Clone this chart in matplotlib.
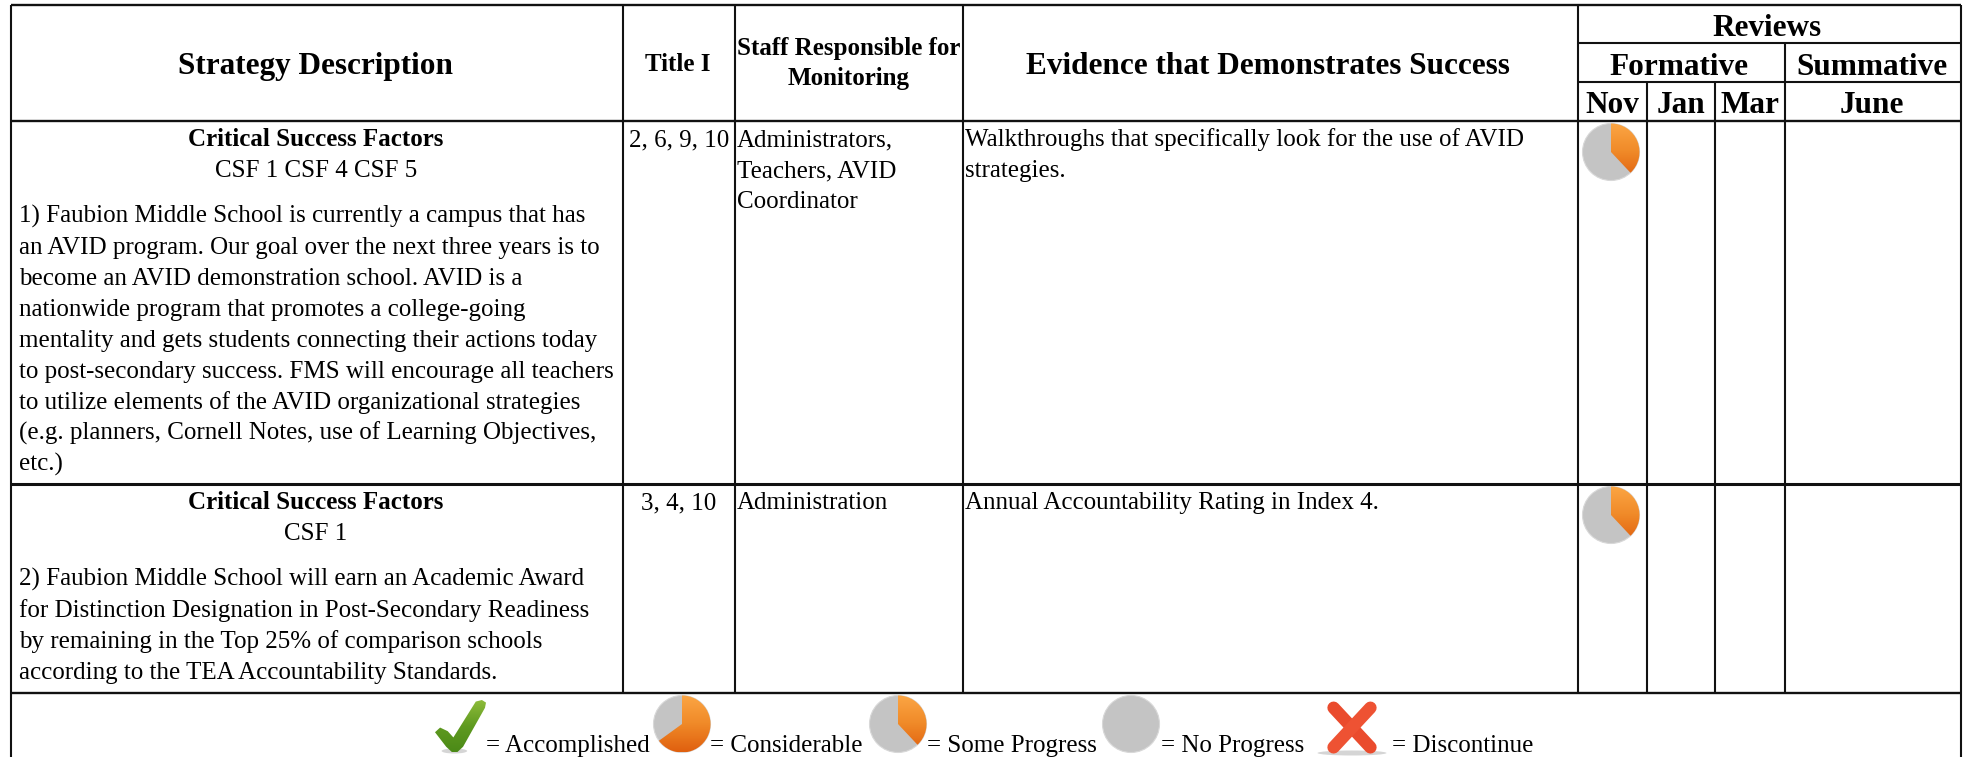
import numpy as np
import matplotlib
matplotlib.use('Agg')
from matplotlib import pyplot as plt
from matplotlib.patches import Wedge, Circle, Polygon, Ellipse
from matplotlib.colors import LinearSegmentedColormap

plt.rcParams['font.family'] = ['Liberation Serif', 'DejaVu Serif']

# table text
strategy_titles = ['Critical Success Factors', 'Critical Success Factors']
csf_lines = ['CSF 1 CSF 4 CSF 5', 'CSF 1']
strategy_1 = ['1) Faubion Middle School is currently a campus that has',
              'an AVID program. Our goal over the next three years is to',
              'become an AVID demonstration school. AVID is a',
              'nationwide program that promotes a college-going',
              'mentality and gets students connecting their actions today',
              'to post-secondary success. FMS will encourage all teachers',
              'to utilize elements of the AVID organizational strategies',
              '(e.g. planners, Cornell Notes, use of Learning Objectives,',
              'etc.)']
strategy_2 = ['2) Faubion Middle School will earn an Academic Award',
              'for Distinction Designation in Post-Secondary Readiness',
              'by remaining in the Top 25% of comparison schools',
              'according to the TEA Accountability Standards.']
title_1 = ['2, 6, 9, 10', '3, 4, 10']
staff = [['Administrators,', 'Teachers, AVID', 'Coordinator'], ['Administration']]
evidence = [['Walkthroughs that specifically look for the use of AVID', 'strategies.'],
            ['Annual Accountability Rating in Index 4.']]
# orange share of the Nov review pies
nov_progress = [0.38, 0.38]

legend_labels = ['= Accomplished', '= Considerable', '= Some Progress', '= No Progress', '= Discontinue']
legend_text_x = [486, 710, 927, 1161, 1392]
legend_pies = [0.65, 0.38, 0.0]
legend_pie_x = [682, 898, 1131]

# grid lines in image pixels
x_left, x_right = 11, 1961
col_x = [623, 735, 963, 1578]
review_x = [1647, 1715, 1785]
y_top, y_rev, y_form, y_head = 5, 43, 82, 121
row_y = [121, 484, 693]

BODY = 18.0
HEAD = 22.5
SMALLHEAD = 18.0

orange_map = LinearSegmentedColormap.from_list('o', ['#fba544', '#f08a28', '#e0600f'])
green_map = LinearSegmentedColormap.from_list('g', ['#8dbb3a', '#5f9a20', '#4b8a17'])


def gradient_fill(ax, patch, x0, x1, y0, y1, cmap):
    # vertical gradient clipped to the patch
    ax.add_patch(patch)
    patch.set_facecolor('none')
    patch.set_edgecolor('none')
    grad = np.linspace(0, 1, 64).reshape(-1, 1)
    im = ax.imshow(grad, extent=(x0, x1, y1, y0), cmap=cmap, aspect='auto', zorder=3, origin='upper')
    im.set_clip_path(patch)


def draw_pie(ax, cx, cy, share, r=28.5):
    ax.add_patch(Circle((cx, cy), r, fc='#c4c4c4', ec='#d8d8d8', lw=0.8, zorder=2))
    if share > 0:
        # y axis points down, so growing angles go clockwise on screen
        w = Wedge((cx, cy), r, -90, -90 + 360 * share)
        gradient_fill(ax, w, cx - r, cx + r, cy - r, cy + r, orange_map)


def draw_check(ax, x0, y0, w, h):
    ax.add_patch(Ellipse((x0 + 0.38 * w, y0 + h - 1), 0.5 * w, 5, fc='#d5d5d5', ec='none', zorder=2))
    shape = np.array([[0.0, 0.62], [0.10, 0.53], [0.25, 0.60], [0.36, 0.72], [0.80, 0.03], [0.92, 0.0],
                      [1.0, 0.05], [0.98, 0.15], [0.55, 0.90], [0.44, 1.0], [0.33, 1.0], [0.22, 0.90]])
    pts = shape * [w, h] + [x0, y0]
    gradient_fill(ax, Polygon(pts), x0, x0 + w, y0, y0 + h, green_map)


def draw_cross(ax, x0, y0, w, h):
    ax.add_patch(Ellipse((x0 + 0.5 * w, y0 + h + 2), 1.5 * w, 5, fc='#d5d5d5', ec='none', zorder=2))
    ax.plot([x0 + 0.1 * w, x0 + 0.9 * w], [y0 + 0.06 * h, y0 + 0.92 * h], color='#ea4b2d', lw=9,
            solid_capstyle='round', zorder=3)
    ax.plot([x0 + 0.9 * w, x0 + 0.1 * w], [y0 + 0.06 * h, y0 + 0.92 * h], color='#ee5233', lw=9,
            solid_capstyle='round', zorder=3)


fig = plt.figure(figsize=(19.63, 7.57), dpi=100)
ax = fig.add_axes([0, 0, 1, 1])
ax.axis('off')


def hline(y, x0=x_left, x1=x_right, lw=1.5):
    ax.plot([x0, x1], [y, y], color='#111111', lw=lw, solid_capstyle='butt', zorder=4)


def vline(x, y0, y1, lw=1.5):
    ax.plot([x, x], [y0, y1], color='#111111', lw=lw, solid_capstyle='butt', zorder=4)


# grid
hline(y_top, lw=1.7)
hline(y_rev, col_x[3])
hline(y_form, col_x[3])
hline(y_head, lw=1.7)
hline(row_y[1], lw=2.2)
hline(row_y[2], lw=1.7)
vline(x_left, y_top, 757)
vline(x_right, y_top, 757)
for x in col_x:
    vline(x, y_top, row_y[2])
vline(review_x[0], y_form, row_y[2])
vline(review_x[1], y_form, row_y[2])
vline(review_x[2], y_rev, row_y[2])


def put(x, y, s, size=BODY, weight='normal', ha='left'):
    ax.text(x, y, s, fontsize=size, fontweight=weight, ha=ha, va='baseline', color='black', zorder=5)


# headers
put(316, 74, 'Strategy Description', HEAD, 'bold', 'center')
put(678, 71, 'Title I', SMALLHEAD, 'bold', 'center')
put(849, 55, 'Staff Responsible for', SMALLHEAD, 'bold', 'center')
put(849, 85, 'Monitoring', SMALLHEAD, 'bold', 'center')
put(1268, 74, 'Evidence that Demonstrates Success', HEAD, 'bold', 'center')
put(1767, 36, 'Reviews', HEAD, 'bold', 'center')
put(1679, 75, 'Formative', HEAD, 'bold', 'center')
put(1872, 75, 'Summative', HEAD, 'bold', 'center')
put(1612, 113, 'Nov', HEAD, 'bold', 'center')
put(1681, 113, 'Jan', HEAD, 'bold', 'center')
put(1750, 113, 'Mar', HEAD, 'bold', 'center')
put(1872, 113, 'June', HEAD, 'bold', 'center')

# rows
pitch = 31
for i, lines in enumerate([strategy_1, strategy_2]):
    top = row_y[i]
    put(316, top + 25, strategy_titles[i], BODY, 'bold', 'center')
    put(316, top + 56, csf_lines[i], BODY, 'normal', 'center')
    for k, s in enumerate(lines):
        put(19, top + 102 + k * pitch, s)
    put(679, top + 25, title_1[i], BODY, 'normal', 'center')
    for k, s in enumerate(staff[i]):
        put(737, top + 25 + k * pitch, s)
    for k, s in enumerate(evidence[i]):
        put(965, top + 25 + k * pitch, s)
    draw_pie(ax, 1611, top + 31, nov_progress[i])

# legend
for x, s in zip(legend_text_x, legend_labels):
    put(x, 752, s)
for x, share in zip(legend_pie_x, legend_pies):
    draw_pie(ax, x, 724, share)
draw_check(ax, 435, 700, 51, 52)
draw_cross(ax, 1329, 705, 46, 46)

ax.set_xlim(0, 1963)
ax.set_ylim(757, 0)
fig.savefig('out.png', dpi=100)
